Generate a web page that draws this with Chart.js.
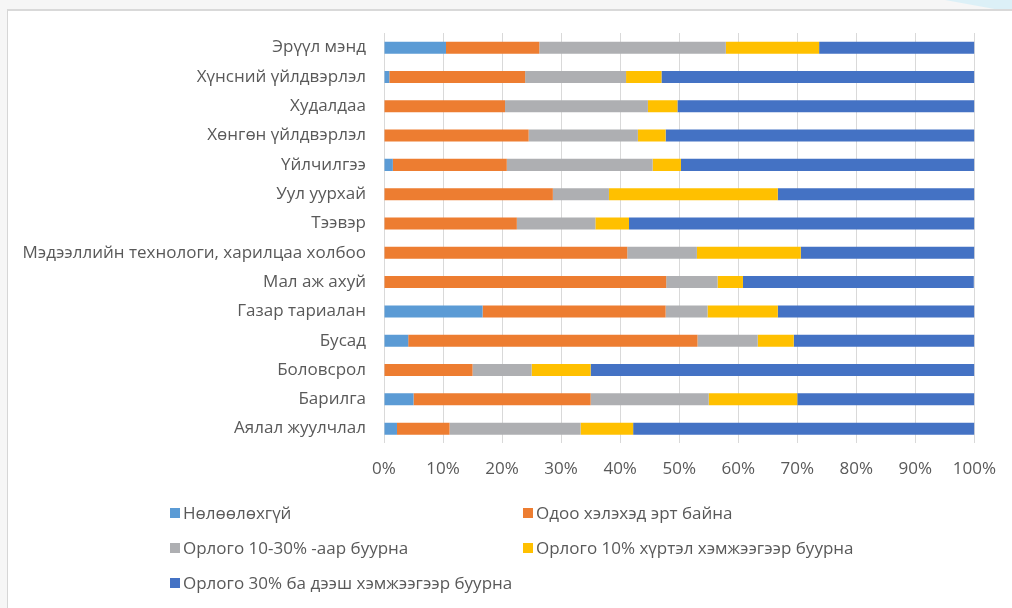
<!DOCTYPE html>
<html>
<head>
<meta charset="utf-8">
<script src="https://cdn.jsdelivr.net/npm/chart.js@4"></script>
<style>
    html, body { margin: 0; padding: 0; }
    body { width: 1012px; height: 608px; background: #f6f6f6; position: relative; overflow: hidden; font-family: 'Open Sans', sans-serif; }
    .wedge { position: absolute; left: 0; top: 0; width: 1012px; height: 10px;
             background: #dcf0f7; clip-path: polygon(945px 0, 1012px 0, 1012px 10px, 1000px 10px); }
    .frame { position: absolute; left: 7px; top: 9px; width: 1100px; height: 700px; background: #fff;
             border-left: 1px solid #d6d6d6; border-top: 2px solid #d9d9d9; box-sizing: border-box; }
    .chart-box { position: absolute; left: 0; top: 0; width: 1012px; height: 608px; }
    .legend { position: absolute; left: 170px; top: 501px; width: 800px; color: #595959; font-size: 17px; }
    .legend-item { position: absolute; display: flex; align-items: center; white-space: nowrap; }
    .legend-item span.box { width: 10px; height: 10px; margin-right: 3px; display: inline-block; }
</style>
</head>
<body>
<div class="wedge"></div>
<div class="frame"></div>
<div class="chart-box"><canvas id="chart" width="1012" height="608"></canvas></div>
<div class="legend" id="legend"></div>
<script>
// Салбарууд (дээрээс доош)
const categories = [
    'Эрүүл мэнд',
    'Хүнсний үйлдвэрлэл',
    'Худалдаа',
    'Хөнгөн үйлдвэрлэл',
    'Үйлчилгээ',
    'Уул уурхай',
    'Тээвэр',
    'Мэдээллийн технологи, харилцаа холбоо',
    'Мал аж ахуй',
    'Газар тариалан',
    'Бусад',
    'Боловсрол',
    'Барилга',
    'Аялал жуулчлал'
];

const seriesNames = [
    'Нөлөөлөхгүй',
    'Одоо хэлэхэд эрт байна',
    'Орлого 10-30% -аар буурна',
    'Орлого 10% хүртэл хэмжээгээр буурна',
    'Орлого 30% ба дээш хэмжээгээр буурна'
];

// Хувь (%)
const noImpact   = [10.5, 0.9, 0, 0, 1.5, 0, 0, 0, 0, 16.7, 4.1, 0, 5, 2.2];
const tooEarly   = [15.8, 23.0, 20.5, 24.5, 19.3, 28.6, 22.5, 41.2, 47.8, 31.0, 49.0, 15, 30, 8.9];
const drop10to30 = [31.6, 17.1, 24.2, 18.5, 24.7, 9.5, 13.3, 11.8, 8.7, 7.1, 10.2, 10, 20, 22.2];
const dropUpTo10 = [15.8, 6.0, 5.0, 4.7, 4.8, 28.6, 5.7, 17.6, 4.3, 11.9, 6.1, 10, 15, 8.9];
const dropOver30 = [26.3, 53.0, 50.3, 52.3, 49.7, 33.3, 58.5, 29.4, 39.1, 33.3, 30.6, 65, 30, 57.8];

const xTicks = [0, 10, 20, 30, 40, 50, 60, 70, 80, 90, 100];

const colors = ['#5b9bd5', '#ed7d31', '#aeafb2', '#ffc000', '#4472c4'];
const seriesData = [noImpact, tooEarly, drop10to30, dropUpTo10, dropOver30];

const font = { family: "'Open Sans', sans-serif", size: 17 };

const chart = new Chart(document.getElementById('chart'), {
    type: 'bar',
    data: {
        labels: categories,
        datasets: seriesNames.map((name, i) => ({
            label: name,
            data: seriesData[i],
            backgroundColor: colors[i],
            borderWidth: 0,
            barPercentage: 0.41,
            categoryPercentage: 1
        }))
    },
    options: {
        indexAxis: 'y',
        responsive: false,
        animation: false,
        layout: { padding: { top: 33, right: 37, left: 0, bottom: 0 } },
        plugins: {
            legend: { display: false },
            tooltip: { enabled: false }
        },
        scales: {
            x: {
                stacked: true,
                min: 0,
                max: 100,
                afterBuildTicks: (scale) => { scale.ticks = xTicks.map(v => ({ value: v })); },
                afterFit: (scale) => { scale.height = 164.7; },
                grid: { color: '#d9d9d9', lineWidth: 1, drawTicks: false },
                border: { display: false },
                ticks: {
                    color: '#595959',
                    font: font,
                    padding: 16,
                    maxRotation: 0,
                    callback: (v) => v + '%'
                }
            },
            y: {
                stacked: true,
                afterFit: (scale) => { scale.width = 384; },
                grid: { display: false, drawTicks: false },
                border: { display: false },
                ticks: { color: '#595959', font: font, padding: 18, autoSkip: false }
            }
        }
    }
});

// Тайлбар (2 баганаар)
const legendEl = document.getElementById('legend');
chart.data.datasets.forEach((ds, i) => {
    const item = document.createElement('div');
    item.className = 'legend-item';
    item.style.left = (i % 2 === 0 ? 0 : 353) + 'px';
    item.style.top = (Math.floor(i / 2) * 35) + 'px';
    item.innerHTML = `<span class="box" style="background:${ds.backgroundColor}"></span>${ds.label}`;
    legendEl.appendChild(item);
});
</script>
</body>
</html>
